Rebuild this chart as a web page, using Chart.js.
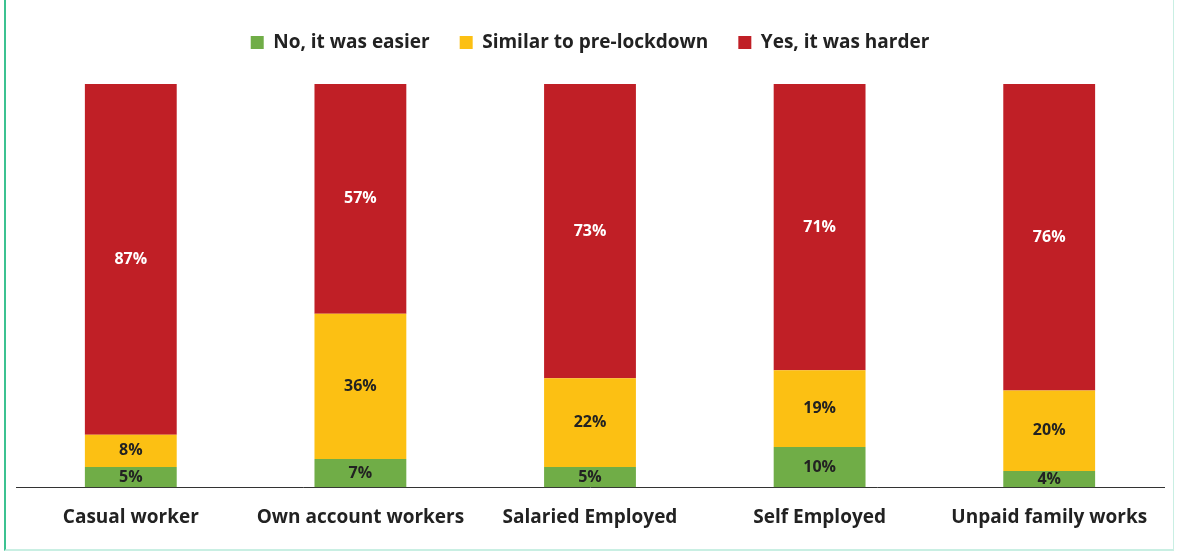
<!DOCTYPE html>
<html>
<head>
<meta charset="utf-8">
<script src="https://cdn.jsdelivr.net/npm/chart.js@4/dist/chart.umd.min.js"></script>
<style>
  html, body { margin: 0; padding: 0; background: #fff; }
  #wrap { position: relative; width: 1177px; height: 554px; overflow: hidden; }
  #frame {
    position: absolute; left: 4px; top: -2px; width: 1170px; height: 553px;
    border-left: 2px solid #3cc291;
    border-right: 1px solid #c9efe3;
    border-bottom: 2px solid #c9efe3;
    box-sizing: border-box;
  }
  #chart { position: absolute; left: 0; top: 0; }
</style>
</head>
<body>
<div id="wrap">
  <div id="frame"></div>
  <canvas id="chart" width="1177" height="554"></canvas>
</div>
<script>
const categories = ["Casual worker", "Own account workers", "Salaried Employed", "Self Employed", "Unpaid family works"];
const easier = [5, 7, 5, 10, 4];
const similar = [8, 36, 22, 19, 20];
const harder = [87, 57, 73, 71, 76];

const FONT = "'Open Sans', Lato, sans-serif";

// draws the % value in the middle of every segment
const segmentLabels = {
  id: "segmentLabels",
  afterDatasetsDraw(chart) {
    const ctx = chart.ctx;
    ctx.save();
    ctx.font = "bold 16px " + FONT;
    ctx.textAlign = "center";
    ctx.textBaseline = "middle";
    chart.data.datasets.forEach((ds, i) => {
      const meta = chart.getDatasetMeta(i);
      meta.data.forEach((bar, j) => {
        const mid = (bar.y + bar.base) / 2;
        ctx.fillStyle = ds.labelColor;
        ctx.fillText(ds.data[j] + "%", bar.x, mid);
      });
    });
    ctx.restore();
  },
};

// extra room between the legend and the bars
const legendGap = {
  id: "legendGap",
  beforeLayout(chart) {
    const lg = chart.legend;
    if (lg && !lg._gapPatched) {
      const origFit = lg.fit;
      lg.fit = function () {
        origFit.call(this);
        this.height += 22;
      };
      lg._gapPatched = true;
    }
  },
};

const ctx = document.getElementById("chart");
new Chart(ctx.getContext("2d"), {
  type: "bar",
  data: {
    labels: categories,
    datasets: [
      { label: "No, it was easier", data: easier, backgroundColor: "#70ad47", labelColor: "#222222" },
      { label: "Similar to pre-lockdown", data: similar, backgroundColor: "#fcc013", labelColor: "#222222" },
      { label: "Yes, it was harder", data: harder, backgroundColor: "#c01f26", labelColor: "#ffffff" },
    ],
  },
  options: {
    responsive: false,
    animation: false,
    layout: { padding: { top: 3, left: 16, right: 13, bottom: 6 } },
    datasets: {
      bar: { barPercentage: 0.4, categoryPercentage: 1.0 },
    },
    plugins: {
      legend: {
        position: "top",
        labels: {
          color: "#222222",
          font: { family: FONT, size: 19, weight: "bold" },
          boxWidth: 13,
          boxHeight: 13,
          padding: 30,
        },
      },
      tooltip: { enabled: false },
    },
    scales: {
      x: {
        stacked: true,
        grid: { display: false, drawTicks: false },
        border: { display: true, color: "#333333", width: 1 },
        ticks: {
          color: "#222222",
          font: { family: FONT, size: 19, weight: "bold" },
          padding: 19,
          maxRotation: 0,
        },
      },
      y: {
        stacked: true,
        display: false,
        min: 0,
        max: 100,
      },
    },
  },
  plugins: [segmentLabels, legendGap],
});
</script>
</body>
</html>
